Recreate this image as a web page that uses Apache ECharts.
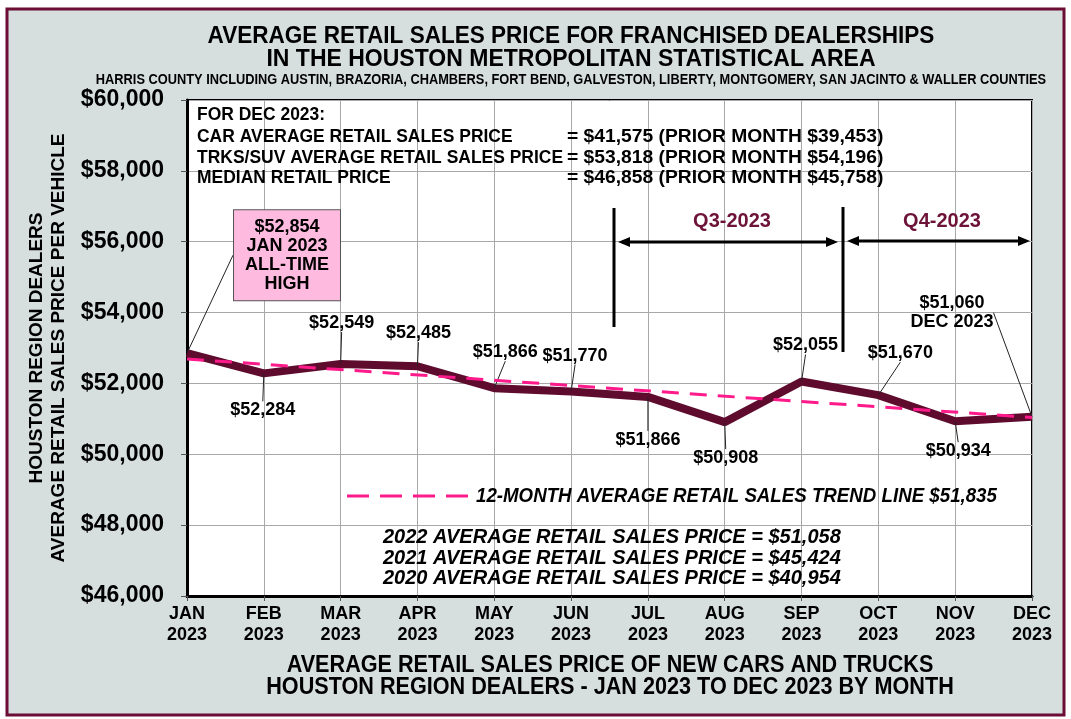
<!DOCTYPE html>
<html>
<head>
<meta charset="utf-8">
<title>Houston average retail sales price 2023</title>
<script src="https://cdn.jsdelivr.net/npm/echarts@6/dist/echarts.min.js"></script>
<style>
  html, body { margin: 0; padding: 0; background: #fff; }
  #chart { width: 1071px; height: 719px; }
</style>
</head>
<body>
<div id="chart"></div>
<script>
// data
const months = ['JAN 2023', 'FEB 2023', 'MAR 2023', 'APR 2023', 'MAY 2023', 'JUN 2023',
                'JUL 2023', 'AUG 2023', 'SEP 2023', 'OCT 2023', 'NOV 2023', 'DEC 2023'];
const avgPrice = [52854, 52284, 52549, 52485, 51866, 51770, 51620, 50908, 52055, 51670, 50934, 51060];
// labels as printed on the original (JUL label reads $51,866 there)
const priceLabels = ['$52,854\nJAN 2023\nALL-TIME\nHIGH', '$52,284', '$52,549', '$52,485', '$51,866', '$51,770',
                     '$51,866', '$50,908', '$52,055', '$51,670', '$50,934', '$51,060\nDEC 2023'];
const trendStart = 52690;
const trendEnd = 51040;
const yMin = 46000, yMax = 60000, yStep = 2000;

const SANS = "'Liberation Sans', Arial, sans-serif";
const MAROON = '#5e0b2e';
const PINK = '#ff1a8c';

// where each data label sits relative to its point (px)
const labelShift = [[100, -98], [-1, 37], [1, -41], [1, -33], [11, -36], [4, -36],
                    [0, 43], [1, 36], [4, -36], [22, -42], [3, 30], [-80, -104]];

const chart = echarts.init(document.getElementById('chart'));

// helpers for the annotation graphics
function txt(x, y, text, font, opts, sx) {
  return {
    type: 'text', x: x, y: y, z: 50, scaleX: sx || 1,
    style: Object.assign({ text: text, font: font, fill: '#000', textVerticalAlign: 'middle' }, opts || {})
  };
}
function seg(x1, y1, x2, y2, w, color, dash) {
  return { type: 'line', z: 50, shape: { x1: x1, y1: y1, x2: x2, y2: y2 },
           style: { stroke: color || '#000', lineWidth: w || 1, lineDash: dash || null } };
}
function arrowHead(x, y, dir) {
  return { type: 'polygon', z: 50, shape: { points: [[x, y], [x - dir * 12, y - 5], [x - dir * 12, y + 5]] },
           style: { fill: '#000' } };
}

const chartData = avgPrice.map(function (v, i) {
  const item = { value: v };
  if (i === 0) {
    item.label = {
      backgroundColor: '#ffbadf', borderColor: '#555', borderWidth: 1,
      padding: [7, 11], lineHeight: 19, align: 'center'
    };
  }
  if (i === 11) {
    item.label = { lineHeight: 19, align: 'center' };
  }
  return item;
});

const BLOCK = 'bold 18px ' + SANS;

const option = {
  backgroundColor: '#ffffff',
  animation: false,
  grid: {
    left: 187, right: 39, top: 100, bottom: 123,
    show: true, backgroundColor: '#ffffff', borderColor: '#000', borderWidth: 2
  },
  xAxis: {
    type: 'category',
    data: months,
    boundaryGap: false,
    axisLine: { lineStyle: { color: '#000', width: 3 } },
    axisTick: { show: true, length: 5, lineStyle: { color: '#555' } },
    axisLabel: {
      formatter: function (v) { return v.replace(' ', '\n'); },
      fontFamily: SANS, fontWeight: 'bold', fontSize: 18,
      color: '#000', lineHeight: 21, margin: 8
    },
    splitLine: { show: true, lineStyle: { color: '#a8a8a8', width: 1 } }
  },
  yAxis: {
    type: 'value',
    min: yMin, max: yMax, interval: yStep,
    axisLine: { show: true, lineStyle: { color: '#000', width: 3 } },
    axisTick: { show: true, length: 6, lineStyle: { color: '#555' } },
    axisLabel: {
      formatter: function (v) { return '$' + v.toLocaleString('en-US'); },
      fontFamily: SANS, fontWeight: 'bold', fontSize: 23, color: '#000', margin: 23
    },
    splitLine: { show: true, lineStyle: { color: '#a8a8a8', width: 1 } },
    name: 'HOUSTON REGION DEALERS\nAVERAGE RETAIL SALES PRICE PER VEHICLE',
    nameLocation: 'middle',
    nameRotate: 90,
    nameGap: 116,
    nameTextStyle: { fontFamily: SANS, fontWeight: 'bold', fontSize: 19, color: '#000', lineHeight: 22 }
  },
  series: [
    {
      name: 'Average retail price',
      type: 'line',
      data: chartData,
      z: 2,
      symbol: 'circle',
      symbolSize: 1,
      showSymbol: true,
      itemStyle: { color: MAROON },
      lineStyle: { color: MAROON, width: 8 },
      label: {
        show: true,
        position: 'inside',
        formatter: function (p) { return priceLabels[p.dataIndex]; },
        fontFamily: SANS, fontWeight: 'bold', fontSize: 18,
        color: '#000'
      },
      labelLine: { show: true, lineStyle: { color: '#222', width: 1 } },
      labelLayout: function (p) {
        const s = labelShift[p.dataIndex];
        return { dx: s[0], dy: s[1] };
      }
    },
    {
      name: '12-month trend',
      type: 'line',
      data: [[0, trendStart], [months.length - 1, trendEnd]],
      z: 3,
      symbol: 'none',
      silent: true,
      lineStyle: { color: PINK, width: 3, type: [17, 11] }
    }
  ],
  graphic: [
    // page background and maroon frame
    { type: 'rect', z: -10, shape: { x: 7, y: 9, width: 1057, height: 706 },
      style: { fill: '#d6dede', stroke: '#6b0d35', lineWidth: 3 } },

    // titles
    txt(571, 37, 'AVERAGE RETAIL SALES PRICE FOR FRANCHISED DEALERSHIPS', 'bold 23px ' + SANS, { textAlign: 'center' }, 0.98),
    txt(571, 60, 'IN THE HOUSTON METROPOLITAN STATISTICAL AREA', 'bold 23px ' + SANS, { textAlign: 'center' }, 1.0),
    txt(571, 80, 'HARRIS COUNTY INCLUDING AUSTIN, BRAZORIA, CHAMBERS, FORT BEND, GALVESTON, LIBERTY, MONTGOMERY, SAN JACINTO & WALLER COUNTIES',
        'bold 14px ' + SANS, { textAlign: 'center' }, 0.915),

    // December summary block
    txt(197, 115, 'FOR DEC 2023:', BLOCK, null, 0.97),
    txt(197, 137, 'CAR AVERAGE RETAIL SALES PRICE', BLOCK, null, 0.97),
    txt(567, 137, '= $41,575 (PRIOR MONTH $39,453)', BLOCK, null, 1.07),
    txt(197, 158, 'TRKS/SUV AVERAGE RETAIL SALES PRICE', BLOCK, null, 0.97),
    txt(567, 158, '= $53,818 (PRIOR MONTH $54,196)', BLOCK, null, 1.07),
    txt(197, 178, 'MEDIAN RETAIL PRICE', BLOCK, null, 0.97),
    txt(567, 178, '= $46,858 (PRIOR MONTH $45,758)', BLOCK, null, 1.07),

    // quarter markers
    seg(614, 208, 614, 327, 3),
    seg(843, 207, 843, 352, 3),
    seg(622, 242, 834, 242, 3),
    arrowHead(618, 242, -1),
    arrowHead(838, 242, 1),
    seg(851, 241, 1026, 241, 3),
    arrowHead(847, 241, -1),
    arrowHead(1030, 241, 1),
    txt(732, 221, 'Q3-2023', 'bold 20px ' + SANS, { textAlign: 'center', fill: '#6d1238' }),
    txt(942, 221, 'Q4-2023', 'bold 20px ' + SANS, { textAlign: 'center', fill: '#6d1238' }),

    // trend legend
    seg(347, 496, 468, 496, 3, PINK, [22, 11]),
    txt(476, 496, '12-MONTH AVERAGE RETAIL SALES TREND LINE $51,835', 'italic bold 20px ' + SANS, null, 0.935),

    // prior years
    txt(383, 537, '2022 AVERAGE RETAIL SALES PRICE = $51,058', 'italic bold 20px ' + SANS),
    txt(383, 558, '2021 AVERAGE RETAIL SALES PRICE = $45,424', 'italic bold 20px ' + SANS),
    txt(383, 578, '2020 AVERAGE RETAIL SALES PRICE = $40,954', 'italic bold 20px ' + SANS),

    // x-axis title
    txt(610, 666, 'AVERAGE RETAIL SALES PRICE OF NEW CARS AND TRUCKS', 'bold 23px ' + SANS, { textAlign: 'center' }, 0.94),
    txt(610, 688, 'HOUSTON REGION DEALERS - JAN 2023 TO DEC 2023 BY MONTH', 'bold 23px ' + SANS, { textAlign: 'center' }, 0.94)
  ]
};

chart.setOption(option);
</script>
</body>
</html>
